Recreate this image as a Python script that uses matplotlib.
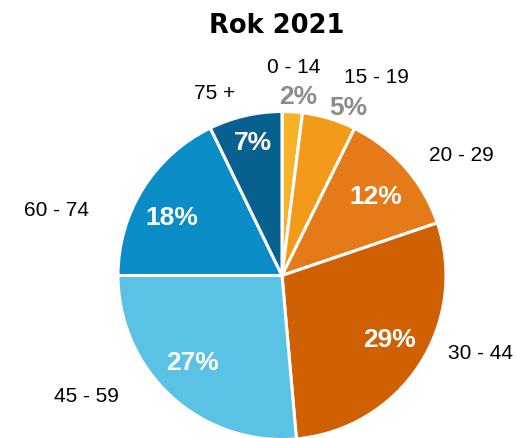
import numpy as np
import matplotlib
matplotlib.use("Agg")
import matplotlib.pyplot as plt

# data
age_groups = ["0 - 14", "15 - 19", "20 - 29", "30 - 44", "45 - 59", "60 - 74", "75 +"]
# wedge sizes as measured from the slice angles
wedge_sizes = [2.0, 5.3, 12.5, 28.8, 26.4, 17.8, 7.2]
# percentages as printed on the chart
pct_labels = [2, 5, 12, 29, 27, 18, 7]
colors = ["#F8B22A", "#F49A1A", "#E57A18", "#CF6003", "#5AC2E4", "#0A8DC6", "#08608F"]

# layout: (distance in radii, angle in degrees) for the group names
name_pos = [(1.273, 86.8), (1.337, 64.6), (1.316, 33.9), (1.302, -21.3),
            (1.403, -148.4), (1.429, 163.8), (1.185, 110.2)]
# same for the percentage labels
pct_pos = [(1.093, 84.9), (1.098, 68.5), (0.747, 39.9), (0.762, -31.1),
           (0.765, -135.8), (0.757, 152.4), (0.827, 102.3)]
pct_color = ["#8C8C8C", "#8C8C8C", "white", "white", "white", "white", "white"]

W, H = 516, 438
cx, cy, r = 282, H - 275.5, 164


def polar(dist, ang):
    a = np.deg2rad(ang)
    return cx + dist * r * np.cos(a), cy + dist * r * np.sin(a)


fig = plt.figure(figsize=(W / 100, H / 100), dpi=100)
ax = fig.add_axes([0, 0, 1, 1])

ax.pie(wedge_sizes, colors=colors, startangle=90, counterclock=False,
       center=(cx, cy), radius=r,
       wedgeprops=dict(edgecolor="white", linewidth=2.2))
# pie resets the limits, so set the pixel frame afterwards
ax.set_xlim(0, W)
ax.set_ylim(0, H)
ax.set_aspect("equal")
ax.axis("off")

for i in range(len(age_groups)):
    x, y = polar(*pct_pos[i])
    ax.text(x, y, f"{pct_labels[i]}%", ha="center", va="center", fontsize=19,
            fontweight="bold", color=pct_color[i], family="Liberation Sans")
    x, y = polar(*name_pos[i])
    ax.text(x, y, age_groups[i], ha="center", va="center", fontsize=15,
            color="black", family="Liberation Sans")

ax.text(277, H - 26, "Rok 2021", ha="center", va="center", fontsize=18.5,
        fontweight="bold", family="DejaVu Sans")

fig.savefig("out.png", dpi=100)
